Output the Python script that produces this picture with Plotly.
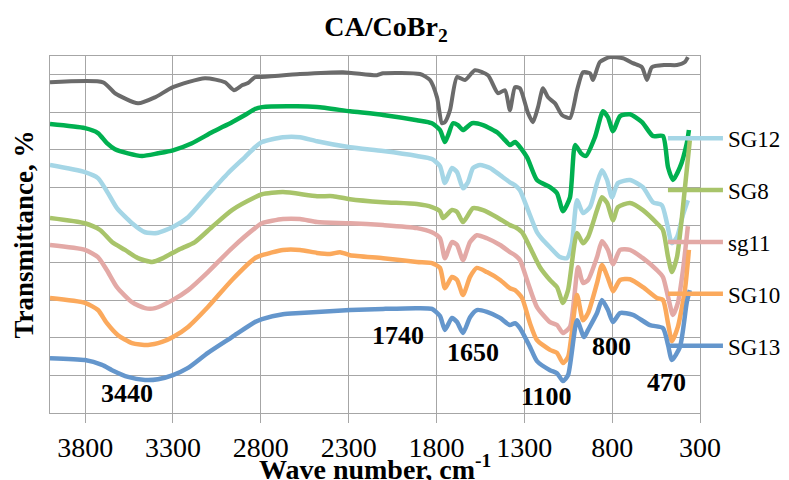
import plotly.graph_objects as go

# ---- data (wavenumber, cm-1 ; transmittance, arbitrary offset %) ----
tick_vals = [3800, 3300, 2800, 2300, 1800, 1300, 800, 300]
tick_text = ["3800", "3300", "2800", "2300", "1800", "1300", "800", "300"]

gray_wn = [4000, 3698, 3630, 3499, 3402, 3300, 3118, 3004, 2953, 2907, 2873, 2833, 2805, 2577, 2332, 2139, 2104, 1894, 1837, 1797,
           1769, 1752, 1723, 1683, 1638, 1581, 1507, 1450, 1410, 1382, 1353, 1325, 1279, 1251, 1222, 1194, 1165, 1125, 1086, 1040,
           1000, 966, 926, 909, 870, 812, 738, 682, 630, 602, 574, 500, 431, 386, 369]
gray_t = [88.0, 88.0, 85.1, 82.4, 84.0, 86.7, 89.1, 88.0, 85.9, 87.2, 87.8, 89.4, 89.4, 90.2, 90.7, 89.9, 90.4, 90.2, 88.6, 84.0,
          77.1, 77.4, 80.6, 89.4, 88.6, 91.2, 89.9, 85.1, 85.9, 80.6, 86.7, 86.4, 79.8, 77.4, 81.4, 86.4, 84.0, 82.4, 79.3, 78.5,
          85.9, 90.7, 90.4, 88.6, 93.4, 94.7, 94.4, 93.1, 92.0, 88.6, 92.0, 92.6, 92.6, 93.4, 94.7]

green_wn = [4000, 3801, 3727, 3676, 3630, 3556, 3476, 3385, 3300, 3192, 3078, 2964, 2890, 2833, 2793, 2594, 2480, 2292, 2104, 1911,
            1826, 1780, 1752, 1734, 1706, 1678, 1649, 1598, 1535, 1450, 1410, 1382, 1353, 1285, 1228, 1154, 1114, 1080, 1040, 1011,
            977, 949, 898, 852, 824, 795, 755, 699, 630, 568, 511, 482, 454, 414, 375, 363]
green_t = [76.9, 75.8, 74.5, 71.8, 70.2, 69.1, 68.4, 69.1, 69.9, 71.8, 74.7, 77.4, 79.3, 80.9, 81.4, 81.6, 81.4, 80.3, 79.3, 77.9,
           77.1, 75.3, 72.1, 73.9, 77.1, 76.6, 75.3, 77.1, 76.6, 74.5, 72.6, 71.3, 72.1, 68.1, 62.0, 60.1, 58.5, 53.7, 57.4, 71.3,
           69.1, 68.4, 73.4, 80.3, 78.7, 75.0, 79.0, 79.5, 77.4, 73.7, 73.7, 65.4, 62.0, 65.4, 71.8, 75.3]

sg12_wn = [4000, 3801, 3727, 3670, 3619, 3533, 3459, 3391, 3300, 3214, 3101, 2987, 2890, 2833, 2793, 2674, 2577, 2480, 2292, 2104,
           1911, 1826, 1780, 1752, 1712, 1683, 1649, 1621, 1592, 1552, 1495, 1438, 1382, 1353, 1325, 1279, 1228, 1199, 1154, 1097,
           1057, 1029, 1000, 966, 926, 886, 858, 829, 801, 767, 699, 625, 568, 517, 488, 460, 431, 397, 369]
sg12_t = [66.0, 64.1, 62.5, 58.5, 54.5, 50.5, 48.1, 47.9, 49.5, 52.1, 58.0, 63.8, 68.1, 70.7, 72.1, 73.4, 73.4, 72.3, 70.7, 69.7,
          68.4, 67.6, 65.7, 61.2, 65.2, 64.1, 59.8, 61.4, 65.2, 66.0, 65.2, 63.3, 61.4, 60.6, 59.3, 54.0, 48.1, 46.3, 44.1, 41.5,
          41.2, 45.2, 56.6, 53.2, 54.8, 61.2, 64.6, 62.0, 57.4, 61.2, 62.0, 60.1, 56.1, 55.3, 50.5, 45.2, 46.8, 52.7, 56.6]

sg8_wn = [4000, 3801, 3715, 3647, 3573, 3499, 3419, 3357, 3271, 3175, 3078, 2964, 2833, 2793, 2674, 2480, 2389, 2292, 2104, 1911,
          1826, 1780, 1763, 1712, 1683, 1649, 1592, 1535, 1456, 1382, 1353, 1313, 1268, 1211, 1154, 1114, 1080, 1051, 1000, 966,
          937, 886, 858, 829, 795, 767, 699, 625, 545, 511, 482, 460, 431, 403, 358]
sg8_t = [51.9, 50.5, 48.7, 45.5, 43.4, 41.2, 40.2, 41.2, 43.4, 45.5, 49.5, 54.0, 57.4, 58.2, 58.8, 57.7, 57.7, 56.9, 56.1, 55.6,
         54.8, 53.7, 51.9, 54.0, 53.5, 50.8, 54.5, 54.0, 52.1, 50.0, 49.5, 48.1, 44.1, 38.8, 35.4, 33.5, 29.3, 32.7, 47.9, 45.2,
         46.8, 54.0, 57.4, 55.9, 51.3, 54.8, 55.9, 54.0, 50.5, 48.7, 41.5, 37.5, 41.5, 52.1, 72.6]

sg11_wn = [4000, 3801, 3727, 3676, 3619, 3533, 3459, 3402, 3300, 3214, 3101, 2964, 2833, 2793, 2674, 2577, 2480, 2292, 2104, 1911,
           1826, 1780, 1752, 1712, 1683, 1649, 1609, 1570, 1513, 1438, 1382, 1353, 1325, 1279, 1228, 1154, 1114, 1080, 1040, 994,
           966, 937, 886, 858, 824, 795, 755, 699, 625, 545, 511, 482, 454, 426, 397, 369]
sg11_t = [44.7, 43.4, 41.5, 38.0, 33.5, 29.5, 27.9, 27.9, 30.1, 32.7, 37.5, 43.9, 49.2, 50.5, 51.6, 51.6, 50.8, 50.5, 50.0, 49.2,
          48.1, 46.5, 41.2, 45.5, 44.7, 40.7, 45.5, 47.3, 46.5, 44.7, 42.8, 42.0, 40.7, 34.6, 28.2, 24.2, 23.4, 21.3, 22.9, 38.8,
          34.6, 35.4, 41.5, 45.7, 43.4, 39.6, 43.4, 43.4, 41.2, 38.0, 36.2, 30.9, 26.1, 29.3, 38.0, 49.7]

sg10_wn = [4000, 3801, 3727, 3676, 3613, 3533, 3442, 3362, 3300, 3214, 3101, 2964, 2833, 2793, 2674, 2577, 2480, 2406, 2349, 2292,
           2104, 1911, 1826, 1780, 1752, 1712, 1683, 1649, 1609, 1570, 1513, 1438, 1382, 1353, 1313, 1268, 1228, 1154, 1114, 1080,
           1051, 1000, 966, 937, 886, 858, 824, 795, 755, 699, 625, 545, 511, 482, 460, 426, 386, 363]
sg10_t = [30.6, 29.3, 27.4, 23.9, 20.7, 18.6, 18.1, 18.9, 20.2, 22.9, 28.2, 35.4, 41.2, 42.0, 43.4, 43.4, 42.6, 42.3, 42.8, 42.0,
          41.2, 40.2, 39.9, 38.6, 33.2, 36.2, 35.4, 31.4, 36.2, 38.6, 37.5, 35.4, 33.2, 32.7, 30.6, 23.9, 19.4, 16.8, 16.0, 13.3,
          14.9, 31.4, 24.7, 26.6, 34.6, 39.4, 35.9, 32.4, 35.4, 35.6, 33.5, 30.6, 30.1, 23.9, 19.1, 22.9, 32.7, 43.4]

sg13_wn = [4000, 3801, 3704, 3647, 3556, 3459, 3385, 3300, 3214, 3101, 2964, 2833, 2793, 2674, 2577, 2480, 2292, 2104, 1911, 1826,
           1780, 1752, 1712, 1683, 1649, 1609, 1570, 1513, 1438, 1382, 1353, 1325, 1268, 1228, 1154, 1114, 1080, 1051, 1000, 960,
           937, 886, 858, 824, 795, 755, 682, 585, 511, 482, 460, 414, 375, 358]
sg13_t = [14.6, 14.1, 12.8, 11.4, 9.6, 8.8, 9.0, 10.1, 12.0, 16.0, 20.2, 24.2, 25.0, 26.3, 26.6, 26.9, 27.4, 27.7, 27.9, 27.7,
          25.8, 22.1, 25.3, 24.2, 21.3, 25.5, 27.4, 26.9, 25.3, 23.4, 23.9, 22.6, 17.6, 13.8, 11.4, 10.6, 8.5, 10.1, 24.7, 20.2,
          22.1, 26.6, 30.1, 27.4, 24.2, 26.6, 26.1, 23.4, 22.6, 18.1, 14.1, 17.6, 29.5, 32.7]

peak_labels = ["3440", "1740", "1650", "1100", "800", "470"]
peak_label_wn = [3562, 2019, 1592, 1171, 801, 488]
peak_label_t = [5.3, 20.7, 16.2, 4.3, 17.8, 8.2]

# ---- styling ----
SERIF = "Liberation Serif"
GRID = "#A6A6A6"

series = [
    (None, gray_wn, gray_t, "#6B6B6B", 4.0),
    (None, green_wn, green_t, "#00B050", 4.5),
    ("SG12", sg12_wn, sg12_t, "#A5D6E6", 4.5),
    ("SG8", sg8_wn, sg8_t, "#A8C46A", 4.5),
    ("sg11", sg11_wn, sg11_t, "#E3A9A6", 4.5),
    ("SG10", sg10_wn, sg10_t, "#FBA95C", 4.5),
    ("SG13", sg13_wn, sg13_t, "#6496CC", 4.5),
]

fig = go.Figure()
for i, (name, wn, t, color, w) in enumerate(series):
    fig.add_trace(go.Scatter(
        x=wn, y=t, mode="lines",
        name=name if name else f"series{i}",
        showlegend=name is not None,
        legendgroup=name if name else f"g{i}",
        line=dict(color=color, width=w, shape="spline", smoothing=0.6),
        hoverinfo="skip",
    ))

for lab, xw, yt in zip(peak_labels, peak_label_wn, peak_label_t):
    fig.add_annotation(x=xw, y=yt, xref="x", yref="y", text=f"<b>{lab}</b>",
                       showarrow=False, font=dict(family=SERIF, size=26, color="black"))

# axis titles
fig.add_annotation(x=0.5, y=-0.153, xref="paper", yref="paper", yanchor="middle",
                   text="<b>Wave number, cm<sup>-1</sup></b>", showarrow=False,
                   font=dict(family=SERIF, size=28, color="black"))
fig.add_annotation(x=-0.0415, y=0.5, xref="paper", yref="paper", xanchor="center",
                   text="<b>Transmittance, %</b>", textangle=-90, showarrow=False,
                   font=dict(family=SERIF, size=27, color="black"))

# page body adds an 8px offset, so the figure is 8px smaller than the window
fig.update_layout(
    width=781, height=472,
    margin=dict(l=42, r=89, t=48, b=67, autoexpand=False),
    paper_bgcolor="white", plot_bgcolor="white",
    title=dict(text="<b>CA/CoBr<sub>2</sub></b>", x=0.484, xref="container", xanchor="center",
               y=0.962, yref="container", yanchor="middle",
               font=dict(family=SERIF, size=28, color="black")),
    showlegend=True,
    legend=dict(x=0.943, xanchor="left", y=0.83, yanchor="top",
                font=dict(family=SERIF, size=23, color="black"),
                bgcolor="rgba(0,0,0,0)", itemwidth=55, tracegroupgap=19,
                traceorder="grouped"),
)
fig.update_xaxes(range=[4000, 300], tickvals=tick_vals, ticktext=tick_text,
                 showgrid=True, gridcolor=GRID, gridwidth=1.3,
                 showline=True, linecolor=GRID, linewidth=1.3, mirror=True,
                 ticks="outside", ticklen=9, tickcolor=GRID, tickwidth=1.3,
                 tickfont=dict(family=SERIF, size=28, color="black"),
                 zeroline=False)
fig.update_yaxes(range=[0, 95], dtick=10, tick0=0, showticklabels=False,
                 showgrid=True, gridcolor=GRID, gridwidth=1.3,
                 showline=True, linecolor=GRID, linewidth=1.3, mirror=True,
                 ticks="", zeroline=False)

fig.write_html("out.html")
